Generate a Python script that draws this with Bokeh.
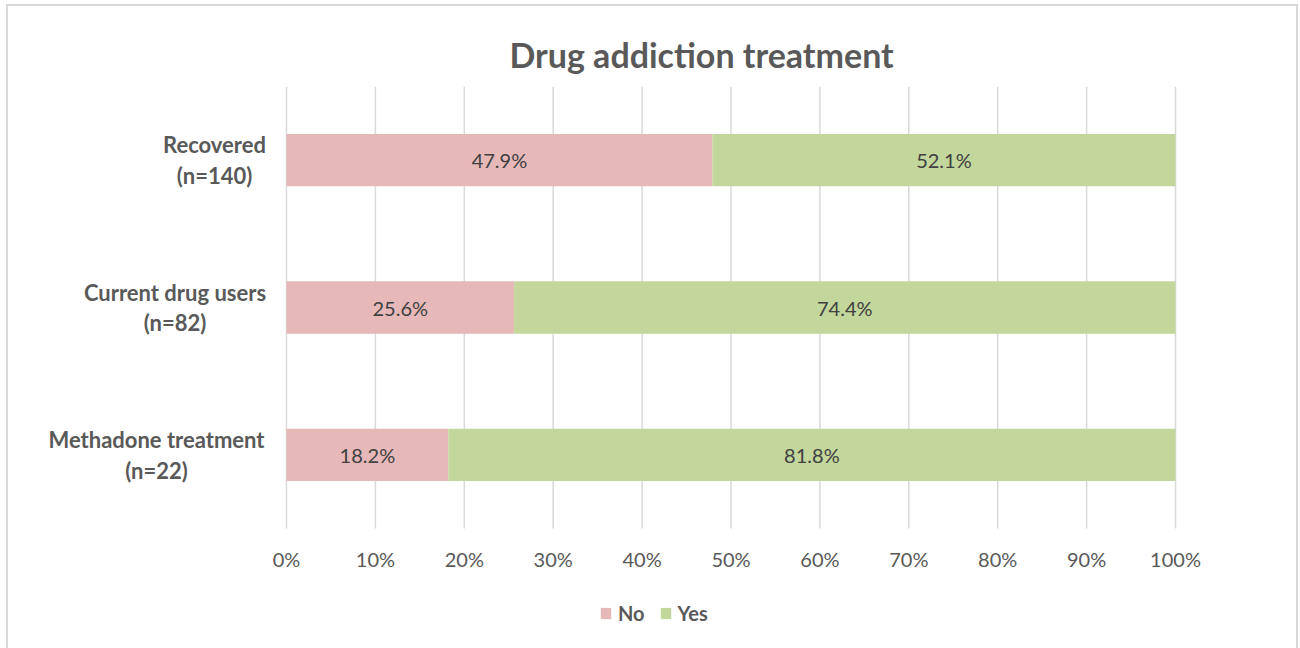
from bokeh.plotting import figure
from bokeh.models import Range1d, Legend, LegendItem, ColumnDataSource
from bokeh.core.properties import value
from bokeh.embed import file_html
from bokeh.resources import INLINE

categories = ["Methadone treatment\n(n=22)", "Current drug users\n(n=82)", "Recovered\n(n=140)"]
no_values = [18.2, 25.6, 47.9]
yes_values = [81.8, 74.4, 52.1]
x_ticks = [0, 10, 20, 30, 40, 50, 60, 70, 80, 90, 100]
x_tick_labels = ["0%", "10%", "20%", "30%", "40%", "50%", "60%", "70%", "80%", "90%", "100%"]

# approximate rendered widths (px) of the category labels, used to centre each block
label_widths = [216, 179, 100]

FONT = "Lato"
TXT = "#595959"
NO_C = "#E6B9B8"
YES_C = "#C3D69B"

# layout: the bar area spans 889 x 442 px; the frame covers the whole canvas below the title
CANVAS_W, FRAME_H = 1288, 562
BAR_AREA_LEFT, BAR_AREA_W, BAR_AREA_H = 278, 889, 442
n = len(categories)
PX_X = BAR_AREA_W / 100.0
X_START = -BAR_AREA_LEFT / PX_X
X_END = X_START + CANVAS_W / PX_X
Y_END = float(n)
Y_START = Y_END - n * FRAME_H / BAR_AREA_H

ypos = [i + 0.5 for i in range(n)]

src = ColumnDataSource(dict(
    y=ypos,
    no_end=no_values,
    full=[a + b for a, b in zip(no_values, yes_values)],
    zero=[0] * n,
    no_mid=[v / 2 for v in no_values],
    yes_mid=[a + b / 2 for a, b in zip(no_values, yes_values)],
    no_lab=[f"{v:.1f}%" for v in no_values],
    yes_lab=[f"{v:.1f}%" for v in yes_values],
))

lab_src = ColumnDataSource(dict(
    y=ypos,
    x=[0] * n,
    text=categories,
    xoff=[-(22 + w / 2) for w in label_widths],
))

tick_src = ColumnDataSource(dict(
    x=x_ticks,
    y0=[0] * len(x_ticks),
    y1=[n] * len(x_ticks),
    text=x_tick_labels,
))

p = figure(
    x_range=Range1d(X_START, X_END),
    y_range=Range1d(Y_START, Y_END),
    frame_width=CANVAS_W, frame_height=FRAME_H,
    min_border_left=0, min_border_right=0,
    min_border_top=80, min_border_bottom=0,
    output_backend="svg", toolbar_location=None,
)
p.margin = (4, 0, 0, 6)
p.styles = {"border-left": "2px solid #d9d9d9", "border-top": "2px solid #d9d9d9",
            "border-right": "2px solid #d9d9d9"}

p.xaxis.visible = False
p.yaxis.visible = False
p.xgrid.grid_line_color = None
p.ygrid.grid_line_color = None
p.outline_line_color = None
p.background_fill_color = "white"
p.border_fill_color = "white"

# vertical gridlines over the bar area
p.segment(x0="x", x1="x", y0="y0", y1="y1", source=tick_src,
          line_color="#d9d9d9", line_width=1.5)

r_no = p.hbar(y="y", left="zero", right="no_end", height=0.355, source=src,
              fill_color=NO_C, line_color=None)
r_yes = p.hbar(y="y", left="no_end", right="full", height=0.355, source=src,
               fill_color=YES_C, line_color=None)

p.text(x="no_mid", y="y", text="no_lab", source=src, text_align="center",
       text_baseline="middle", text_font=value(FONT), text_font_size="20px",
       text_color="#404040")
p.text(x="yes_mid", y="y", text="yes_lab", source=src, text_align="center",
       text_baseline="middle", text_font=value(FONT), text_font_size="20px",
       text_color="#404040")

# category labels
p.text(x="x", y="y", text="text", x_offset="xoff", source=lab_src,
       text_align="center", text_baseline="middle",
       text_font=value(FONT), text_font_size="22px",
       text_font_style="bold", text_color=TXT, text_line_height=1.14)

# x tick labels
p.text(x="x", y="y0", text="text", y_offset=30, source=tick_src,
       text_align="center", text_baseline="middle",
       text_font=value(FONT), text_font_size="20px", text_color=TXT)

p.title.text = "Drug addiction treatment"
p.title.align = "left"
p.title.offset = 501
p.title.text_font = FONT
p.title.text_font_size = "34px"
p.title.text_font_style = "bold"
p.title.text_color = TXT
p.title.standoff = 23

legend = Legend(items=[LegendItem(label="No", renderers=[r_no]),
                       LegendItem(label="Yes", renderers=[r_yes])],
                orientation="horizontal", location=(591, 23))
legend.label_text_font = FONT
legend.label_text_font_size = "20px"
legend.label_text_font_style = "bold"
legend.label_text_color = TXT
legend.glyph_width = 13
legend.glyph_height = 14
legend.label_standoff = 6
legend.spacing = 14
legend.padding = 0
legend.margin = 0
legend.border_line_color = None
legend.background_fill_alpha = 0
p.add_layout(legend, "center")

open("out.html", "w").write(file_html(p, INLINE))
